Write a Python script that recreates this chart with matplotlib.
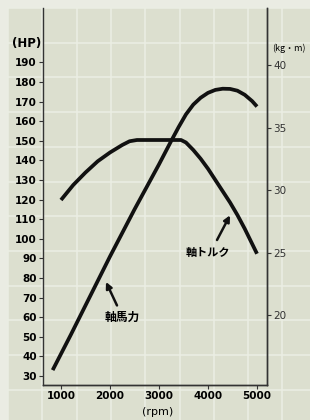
import matplotlib.pyplot as plt
from matplotlib.patches import Rectangle

# engine speed / output
hp_rpm = [830, 1200, 1500, 2000, 2500, 3000, 3250, 3400, 3550, 3700, 3850, 4000,
          4150, 4300, 4450, 4600, 4750, 4900, 5000]
hp_val = [33, 51, 66, 91, 115, 138, 150, 157, 163.5, 168.5, 172, 174.5,
          176, 176.6, 176.5, 175.6, 173.5, 170.3, 167.5]

tq_rpm = [1000, 1250, 1500, 1750, 2000, 2250, 2400, 2550, 3000, 3450, 3550, 3700,
          3850, 4000, 4150, 4300, 4450, 4600, 4750, 4900, 5000]
tq_val = [29.2, 30.4, 31.4, 32.3, 33.0, 33.6, 33.9, 34.0, 34.0, 34.0, 33.8, 33.2,
          32.5, 31.7, 30.8, 29.9, 29.0, 28.0, 26.9, 25.7, 24.9]

x_ticks = [1000, 2000, 3000, 4000, 5000]
hp_ticks = list(range(30, 200, 10))
tq_ticks = [20, 25, 30, 35, 40]

W, H = 310, 420
paper = '#dcdfcf'
ink = '#111111'

fig = plt.figure(figsize=(W / 100, H / 100), dpi=100)
fig.patch.set_facecolor('#eaece3')

# graph paper behind everything
bg = fig.add_axes([0, 0, 1, 1], zorder=-5)
bg.set_xlim(0, W)
bg.set_ylim(H, 0)
bg.axis('off')
bg.add_patch(Rectangle((8, 8), W, H, color=paper, lw=0))
for k in range(9):
    gx = 8 + 34.3 * k
    bg.plot([gx, gx], [8, H], color='#ebeee4', lw=1.1)
for k in range(12):
    gy = 8 + 34.7 * k
    bg.plot([8, W], [gy, gy], color='#ebeee4', lw=1.1)

ax = fig.add_axes([43 / W, 1 - 385 / H, (267 - 43) / W, (385 - 8) / H])
ax.patch.set_alpha(0)
ax.set_xlim(633, 5204)
ax.set_ylim(25.4, 217.8)
ax2 = ax.twinx()
ax2.set_ylim(14.4, 44.56)

ax.plot(hp_rpm, hp_val, color=ink, lw=2.7, solid_capstyle='butt', solid_joinstyle='round')
ax2.plot(tq_rpm, tq_val, color=ink, lw=2.7, solid_capstyle='butt', solid_joinstyle='round')

num_font = dict(family='Liberation Sans Narrow', weight='bold', size=7.5)
ax.set_xticks(x_ticks)
ax.set_xticklabels([str(v) for v in x_ticks], **num_font)
ax.set_yticks(hp_ticks)
ax.set_yticklabels([str(v) for v in hp_ticks], **num_font)
ax2.set_yticks(tq_ticks)
ax2.set_yticklabels([str(v) for v in tq_ticks], family='Liberation Sans Narrow', size=7.5, color='#333333')

for a in (ax, ax2):
    a.spines['top'].set_visible(False)
    for s in ('left', 'right', 'bottom'):
        a.spines[s].set_color('#333333')
        a.spines[s].set_linewidth(1.0)
    a.tick_params(length=3, width=0.8, pad=1.5, color='#333333')
ax2.spines['left'].set_visible(False)

jp = ['Noto Sans CJK JP', 'DejaVu Sans']
fig.text(27 / W, 1 - 43 / H, '(HP)', ha='center', va='center', family='Liberation Sans Narrow',
         weight='bold', size=8.5)
fig.text(289 / W, 1 - 48 / H, '(kg・m)', ha='center', va='center', family=jp, size=6.5)
fig.text(158 / W, 1 - 412 / H, '(rpm)', ha='center', va='center', family='Liberation Sans Narrow', size=8)

arrow = dict(arrowstyle='-|>', lw=1.8, color=ink, mutation_scale=9, shrinkA=0, shrinkB=0)
ax.annotate('', xy=(1918, 78), xytext=(2143, 66), arrowprops=arrow)
ax.text(2245, 60, '軸馬力', ha='center', va='center', family=jp, weight='bold', size=8.5)
ax.annotate('', xy=(4449, 112), xytext=(4184, 99.4), arrowprops=arrow)
ax.text(4000, 93, '軸トルク', ha='center', va='center', family=jp, weight='bold', size=8)

fig.savefig('out.png', dpi=100, facecolor=fig.get_facecolor())
